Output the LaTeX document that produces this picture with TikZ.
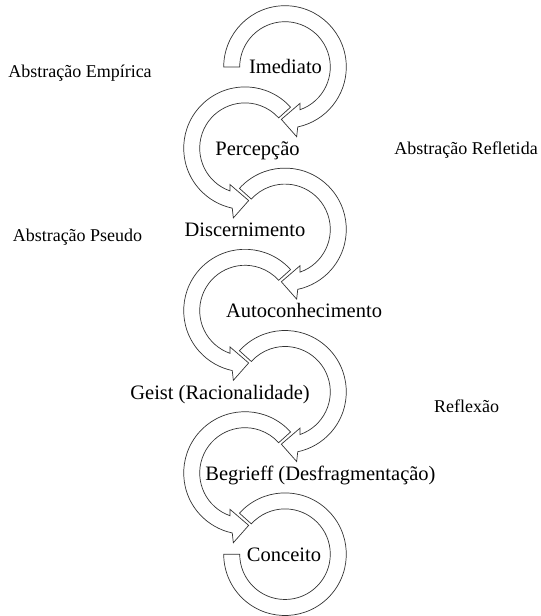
\documentclass[tikz,border=0pt]{standalone}
\usepackage{fontspec}
\setmainfont{Liberation Serif}

\begin{document}
\begin{tikzpicture}[
    x=1pt, y=1pt,
    band/.style={draw=black!80, fill=white, line width=0.7pt, line join=miter},
    stage/.style={anchor=base, inner sep=0pt, font=\fontsize{20.5}{24}\selectfont},
    side/.style={anchor=base, inner sep=0pt, font=\fontsize{18}{22}\selectfont}
]
\useasboundingbox (0,0) rectangle (541,616);

% Centres of the ring arrows
\coordinate (imediato) at (285,549);
\coordinate (percepcao) at (245,467.8);
\coordinate (discern) at (285,386.6);
\coordinate (autocon) at (245,305.4);
\coordinate (geist) at (285,224.2);
\coordinate (begrieff) at (245,143);
\coordinate (conceito) at (285,61.8);

% Last ring (no arrow head)
\draw[band, shift={(conceito)}] (138:61.3) arc[start angle=138, end angle=-180, radius=61.3]
    -- (180:45.3) arc[start angle=-180, end angle=138, radius=45.3] -- cycle;

% Rings turning anticlockwise / clockwise, bottom to top
\draw[band, shift={(begrieff)}] (42:61.3) arc[start angle=42, end angle=258, radius=61.3]
    -- (260.5:70.7) -- (274:52.5) -- (247.5:39.3) -- (250.8:45.3)
    arc[start angle=250.8, end angle=42, radius=45.3] -- cycle;
\draw[band, shift={(geist)}] (138:61.3) arc[start angle=138, end angle=-78, radius=61.3]
    -- (-80.5:70.7) -- (-94:52.5) -- (-67.5:39.3) -- (-70.8:45.3)
    arc[start angle=-70.8, end angle=138, radius=45.3] -- cycle;
\draw[band, shift={(autocon)}] (42:61.3) arc[start angle=42, end angle=258, radius=61.3]
    -- (260.5:70.7) -- (274:52.5) -- (247.5:39.3) -- (250.8:45.3)
    arc[start angle=250.8, end angle=42, radius=45.3] -- cycle;
\draw[band, shift={(discern)}] (138:61.3) arc[start angle=138, end angle=-78, radius=61.3]
    -- (-80.5:70.7) -- (-94:52.5) -- (-67.5:39.3) -- (-70.8:45.3)
    arc[start angle=-70.8, end angle=138, radius=45.3] -- cycle;
\draw[band, shift={(percepcao)}] (42:61.3) arc[start angle=42, end angle=258, radius=61.3]
    -- (260.5:70.7) -- (274:52.5) -- (247.5:39.3) -- (250.8:45.3)
    arc[start angle=250.8, end angle=42, radius=45.3] -- cycle;

% First ring (flat start on the left)
\draw[band, shift={(imediato)}] (180:61.3) arc[start angle=180, end angle=-78, radius=61.3]
    -- (-80.5:70.7) -- (-94:52.5) -- (-67.5:39.3) -- (-70.8:45.3)
    arc[start angle=-70.8, end angle=180, radius=45.3] -- cycle;

% Stage labels
\node[stage] (tImediato) at (285.5,542) {Imediato};
\node[stage] (tPercepcao) at (257.5,460.7) {Percepção};
\node[stage] (tDiscern) at (245,379.4) {Discernimento};
\node[stage] (tAutocon) at (304,298.1) {Autoconhecimento};
\node[stage] (tGeist) at (220,216.8) {Geist (Racionalidade)};
\node[stage] (tBegrieff) at (320.5,135.5) {Begrieff (Desfragmentação)};
\node[stage] (tConceito) at (284,54.2) {Conceito};

% Side labels
\node[side] (sEmpirica) at (80,538) {Abstração Empírica};
\node[side] (sRefletida) at (466,461) {Abstração Refletida};
\node[side] (sPseudo) at (77.5,374) {Abstração Pseudo};
\node[side] (sReflexao) at (466.7,203) {Reflexão};

\end{tikzpicture}
\end{document}
